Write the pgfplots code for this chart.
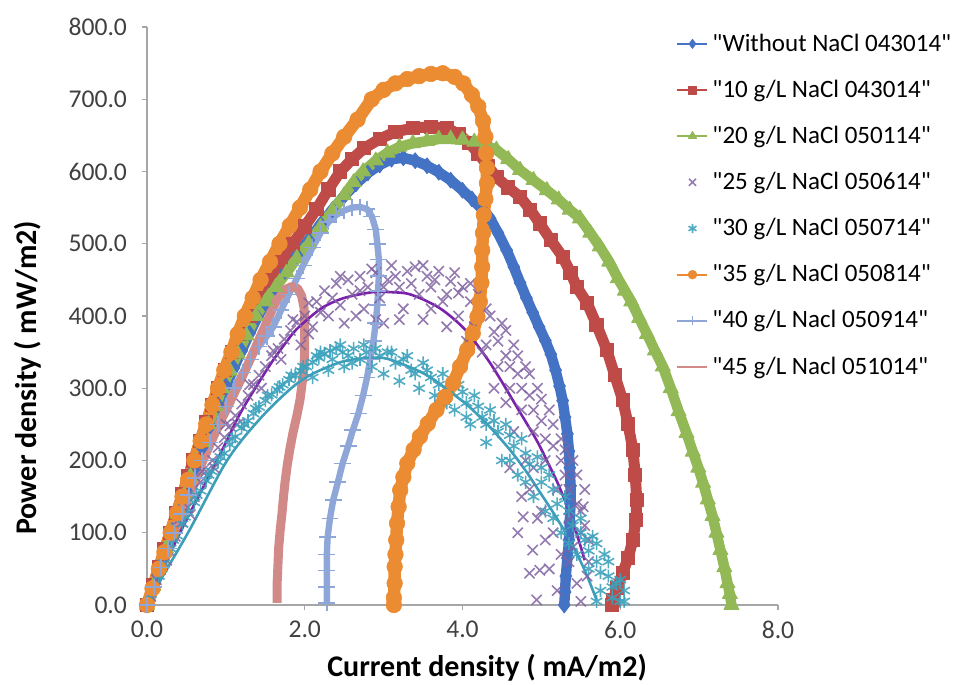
\documentclass[border=0pt]{standalone}
\usepackage{fontspec}
\setmainfont{Carlito}[Ligatures=TeXOff]
\usepackage{pgfplots}
\pgfplotsset{compat=1.18}
\definecolor{blueS}{HTML}{4472C4}
\definecolor{redS}{HTML}{BE4B48}
\definecolor{greenS}{HTML}{92B956}
\definecolor{orangeS}{HTML}{EB8C32}
\definecolor{purpleS}{HTML}{8064A2}
\definecolor{tealS}{HTML}{3DA2BC}
\definecolor{ltblueS}{HTML}{8FA6D9}
\definecolor{pinkS}{HTML}{D28A88}
\definecolor{purpleT}{HTML}{7A22AC}
\definecolor{tealT}{HTML}{3E9EB9}
\definecolor{axgray}{HTML}{A6A6A6}
\definecolor{ticktext}{HTML}{404040}
\begin{document}
\begin{tikzpicture}
\useasboundingbox (-73.5pt,-40pt) rectangle (405.5pt,302.5pt);
\begin{axis}[
  scale only axis, width=315.5pt, height=289pt,
  xmin=0, xmax=8, ymin=0, ymax=800,
  xtick={0,2,4,6,8}, ytick={0,100,200,300,400,500,600,700,800},
  axis lines=left,
  axis line style={-, draw=axgray, line width=0.7pt},
  every outer x axis line/.append style={-},
  every outer y axis line/.append style={-},
  tick align=outside, major tick length=2.5pt,
  tick style={draw=axgray, line width=0.7pt},
  clip=false,
  /pgf/number format/.cd, fixed, fixed zerofill, precision=1, 1000 sep={}, assume math mode=true,
  /pgfplots/.cd,
  ticklabel style={font=\fontsize{12.8}{14}\selectfont, text=ticktext},
  yticklabel style={xshift=-4pt},
  xticklabel style={yshift=-2pt},
  xlabel={Current density ( mA/m2)},
  ylabel={Power density ( mW/m2)},
  label style={font=\fontsize{15}{17}\selectfont\bfseries},
  xlabel style={at={(axis description cs:0.539,-0.109)}, anchor=center},
  ylabel style={at={(axis description cs:-0.189,0.393)}, anchor=center},
  legend style={at={(axis description cs:0.829,1.003)}, anchor=north west,
    draw=none, fill=none, font=\fontsize{12.5}{14}\selectfont, row sep=8.9pt,
    legend cell align=left, /tikz/every even column/.append style={column sep=0pt}},
  legend image code/.code={\draw[mark repeat=2,mark phase=2,#1] plot coordinates {(0pt,0pt) (7.5pt,0pt) (15pt,0pt)};},
]
% Without NaCl
\addplot[color=blueS, line width=5.2pt, line join=round, mark=diamond*, mark size=3.9pt, mark options={solid, line width=0.5pt},
  legend image post style={mark size=2.2pt, line width=0.9pt}] coordinates {
(0,0)(0.08,25)(0.16,52)(0.24,78)(0.32,103)(0.4,128)(0.5,158)(0.6,188)(0.7,218)(0.8,248)(0.9,277)(1.0,303)(1.1,328)(1.2,352)(1.3,376)(1.4,398)(1.5,418)(1.62,440)(1.75,462)(1.9,484)(2.05,505)(2.2,527)(2.35,547)(2.5,566)(2.65,583)(2.8,598)(2.95,609)(3.1,617)(3.25,619)(3.4,615)(3.55,608)(3.7,599)(3.85,588)(4.0,574)(4.12,562)(4.25,548)(4.35,535)(4.45,515)(4.56,491)(4.65,468)(4.73,446)(4.81,425)(4.89,405)(4.97,385)(5.05,366)(5.12,347)(5.18,325)(5.23,303)(5.27,283)(5.3,260)(5.33,237)(5.35,213)(5.36,190)(5.37,165)(5.37,140)(5.36,115)(5.35,90)(5.33,65)(5.31,40)(5.3,18)(5.29,0)};
\addlegendentry{"Without NaCl 043014"}
% 10 g/L
\addplot[color=redS, line width=5.5pt, line join=round, mark=square*, mark size=3.3pt, mark options={solid, line width=0.5pt},
  legend image post style={mark size=2pt, line width=0.9pt}] coordinates {
(0,0)(0.08,28)(0.15,52)(0.22,77)(0.29,100)(0.37,127)(0.45,154)(0.52,178)(0.59,200)(0.67,227)(0.75,253)(0.82,277)(0.9,300)(0.99,325)(1.08,350)(1.18,375)(1.3,400)(1.42,425)(1.55,450)(1.7,475)(1.85,500)(2.0,524)(2.15,548)(2.3,575)(2.45,600)(2.6,617)(2.75,632)(2.95,645)(3.15,655)(3.37,660)(3.6,662)(3.8,660)(3.95,652)(4.09,639)(4.2,625)(4.32,608)(4.43,592)(4.58,578)(4.73,565)(4.86,547)(4.98,528)(5.12,505)(5.27,482)(5.37,460)(5.45,440)(5.58,418)(5.7,388)(5.83,353)(5.93,318)(6.03,284)(6.1,250)(6.16,215)(6.19,180)(6.21,145)(6.2,118)(6.16,90)(6.1,65)(6.03,44)(5.96,24)(5.91,7)(5.9,0)};
\addlegendentry{"10 g/L NaCl 043014"}
% 20 g/L
\addplot[color=greenS, line width=5.2pt, line join=round, mark=triangle*, mark size=4.3pt, mark options={solid, line width=0.5pt},
  legend image post style={mark size=2.3pt, line width=0.9pt}] coordinates {
(0,0)(0.08,26)(0.16,52)(0.24,78)(0.31,100)(0.39,126)(0.47,152)(0.55,178)(0.62,200)(0.7,225)(0.78,250)(0.87,275)(0.95,300)(1.05,324)(1.15,348)(1.26,373)(1.38,400)(1.5,420)(1.63,440)(1.77,460)(1.9,480)(2.05,500)(2.2,523)(2.35,546)(2.5,567)(2.62,585)(2.74,600)(2.9,615)(3.05,626)(3.2,634)(3.37,639)(3.55,642)(3.7,645)(3.85,645)(4.0,644)(4.15,641)(4.3,636)(4.43,630)(4.58,617)(4.73,602)(4.9,588)(5.07,574)(5.22,561)(5.36,547)(5.49,535)(5.62,515)(5.74,496)(5.86,475)(5.97,452)(6.06,435)(6.14,420)(6.24,397)(6.34,375)(6.44,352)(6.54,330)(6.64,300)(6.74,268)(6.84,238)(6.92,212)(6.99,190)(7.05,169)(7.11,146)(7.17,123)(7.22,100)(7.27,76)(7.32,52)(7.36,30)(7.39,15)(7.41,0)};
\addlegendentry{"20 g/L NaCl 050114"}
% 25 g/L (markers only)
\addplot[only marks, color=purpleS, mark=x, mark size=3.6pt, mark options={line width=0.8pt, opacity=0.85},
  legend image post style={mark size=2.5pt, opacity=0.45}] coordinates {
(0.05,12)(0.12,35)(0.2,55)(0.28,75)(0.36,95)(0.45,115)(0.52,135)(0.6,150)(0.68,170)(0.75,185)(0.83,200)(0.9,218)(0.98,232)(1.05,248)(1.12,262)(1.2,278)(1.28,290)(1.35,305)(1.42,318)(1.5,330)(1.58,345)(1.66,355)(1.74,368)(1.82,380)(1.9,392)
(0.4,118)(0.7,185)(1.0,250)(1.3,305)(1.6,352)(1.85,395)(2.05,418)
(2.0,400)(2.1,385)(2.15,420)(2.25,435)(2.3,400)(2.4,445)(2.45,415)(2.5,390)(2.55,450)(2.6,430)(2.7,455)(2.75,410)(2.8,440)(2.9,460)(2.95,425)(3.0,390)(3.05,450)(3.1,470)(3.2,440)(3.25,410)(3.3,462)(3.4,468)(3.45,430)(3.5,395)(3.55,455)(3.6,440)(3.7,462)(3.75,420)(3.8,385)(3.85,448)(3.95,432)(4.0,440)(4.05,365)(4.1,420)(4.2,400)(4.25,350)(4.3,410)(4.4,378)(4.45,330)(4.5,390)(4.55,345)(4.6,300)(4.65,360)(4.7,320)(4.75,270)(4.8,330)(4.85,290)(4.9,240)(4.95,300)(5.0,255)(5.05,200)(5.1,270)(5.15,220)(5.2,160)(5.25,230)(5.3,180)(5.35,120)(5.4,200)(5.45,140)(5.5,100)(5.55,160)(5.6,90)(5.58,40)(4.75,150)(4.77,122)(4.89,76)(4.85,44)(4.94,7)(4.98,48)(5.1,50)(5.2,20)(5.35,60)(5.45,30)(5.5,5)(4.6,190)(4.7,100)(5.0,130)(5.15,100)(5.53,136)
(2.2,405)(2.35,425)(2.45,455)(2.65,400)(2.7,435)(2.85,465)(2.9,395)(3.0,440)(3.15,455)(3.2,395)(3.35,445)(3.5,470)(3.6,410)(3.65,450)(3.8,430)(3.9,460)(3.95,400)(4.1,445)(4.15,385)(4.2,430)(4.3,360)(4.35,400)(4.45,365)(4.55,380)(4.6,330)(4.7,345)(4.75,300)(4.85,320)(4.9,270)(5.0,285)(5.05,230)(5.15,250)(5.25,200)(5.3,215)(5.35,160)(5.45,180)(5.5,130)(5.55,110)(4.8,200)(4.85,160)(4.9,190)(4.95,120)(5.05,90)(5.25,70)(5.4,80)(5.6,60)(4.65,240)(4.55,280)(4.4,300)(2.05,375)(1.95,360)(1.7,340)(1.45,300)(1.15,250)(0.85,190)(0.55,125)(0.25,62)};
\addlegendentry{"25 g/L NaCl 050614"}
% 30 g/L (markers only)
\addplot[only marks, color=tealS, mark=asterisk, mark size=3.3pt, mark options={line width=0.8pt, opacity=0.9},
  legend image post style={mark size=2.3pt, opacity=0.45}] coordinates {
(0.02,5)(0.08,22)(0.15,40)(0.22,58)(0.3,78)(0.38,96)(0.45,112)(0.52,128)(0.6,142)(0.68,158)(0.75,172)(0.82,185)(0.9,198)(0.98,210)(1.05,222)(1.12,233)(1.2,245)(1.28,255)(1.35,265)(1.42,274)(1.5,283)(1.58,291)(1.65,298)(1.72,305)(1.8,312)(1.88,318)(1.95,324)(2.02,330)(2.1,336)(2.18,342)(2.25,348)(2.32,352)(2.4,355)(2.48,350)(2.55,345)(2.62,355)(2.7,340)(2.1,315)(2.3,325)(2.5,330)(2.2,350)(2.78,350)(2.85,330)(2.95,345)(3.0,320)(3.05,350)(3.15,335)(3.2,310)(3.25,340)(3.35,325)(3.45,300)(3.5,335)(3.6,315)(3.65,290)(3.75,320)(3.85,295)(3.9,270)(3.95,305)(4.05,280)(4.1,250)(4.15,290)(4.25,260)(4.3,225)(4.35,270)(4.45,240)(4.5,200)(4.55,250)(4.65,220)(4.7,180)(4.75,230)(4.85,195)(4.9,150)(4.95,205)(5.0,170)(5.05,130)(5.1,180)(5.2,140)(5.25,100)(5.3,150)(5.4,110)(5.45,70)(5.5,120)(5.55,90)(5.6,50)(5.65,95)(5.7,60)(5.75,20)(5.8,70)(5.85,40)(5.95,30)(6.0,5)(5.9,10)(5.7,5)(6.05,20)
(0.05,15)(0.18,50)(0.33,90)(0.48,122)(0.63,152)(0.78,180)(0.93,205)(1.08,230)(1.23,250)(1.38,272)(1.53,290)(1.68,302)(1.83,318)(1.98,330)(2.15,345)(2.35,340)(2.45,360)(2.6,335)(2.75,360)(2.9,355)(3.1,350)(3.3,345)(3.4,320)(3.55,325)(3.7,305)(3.8,280)(4.0,295)(4.2,275)(4.4,255)(4.6,235)(4.6,200)(4.8,210)(4.8,170)(5.0,190)(5.15,160)(5.15,120)(5.35,130)(5.35,85)(5.5,100)(5.6,75)(5.7,85)(5.75,45)(5.85,60)(5.9,25)(6.0,35)(6.05,5)(4.3,250)(4.05,260)(3.8,300)};
\addlegendentry{"30 g/L NaCl 050714"}
% 35 g/L
\addplot[color=orangeS, line width=6.2pt, line join=round, mark=*, mark size=3.9pt, mark options={solid, line width=0.3pt},
  legend image post style={mark size=2.2pt, line width=0.9pt}] coordinates {
(0,0)(0.07,23)(0.15,50)(0.22,73)(0.3,100)(0.38,127)(0.45,150)(0.52,173)(0.6,200)(0.68,227)(0.75,250)(0.83,277)(0.9,300)(0.98,325)(1.07,350)(1.15,375)(1.24,400)(1.34,425)(1.44,450)(1.56,475)(1.68,500)(1.81,525)(1.94,550)(2.07,575)(2.2,600)(2.35,625)(2.5,648)(2.67,672)(2.85,700)(3.0,713)(3.15,722)(3.3,728)(3.45,732)(3.6,735)(3.75,736)(3.9,731)(4.01,722)(4.12,706)(4.2,690)(4.26,670)(4.29,648)(4.3,625)(4.31,605)(4.31,584)(4.29,562)(4.27,540)(4.26,515)(4.25,491)(4.25,468)(4.24,446)(4.22,420)(4.19,399)(4.13,376)(4.06,353)(3.97,330)(3.88,307)(3.78,288)(3.67,270)(3.56,251)(3.46,233)(3.38,215)(3.3,196)(3.25,177)(3.21,159)(3.19,136)(3.17,113)(3.16,90)(3.15,70)(3.14,53)(3.14,30)(3.13,10)(3.13,0)};
\addlegendentry{"35 g/L NaCl 050814"}
% 40 g/L
\addplot[color=ltblueS, line width=3.2pt, line join=round, mark=+, mark size=4.2pt, mark options={solid, line width=0.8pt},
  legend image post style={mark size=2.2pt, line width=0.8pt}] coordinates {
(0,0)(0.09,25)(0.18,52)(0.27,78)(0.35,100)(0.44,126)(0.53,152)(0.61,176)(0.7,200)(0.8,225)(0.9,250)(1.0,275)(1.1,300)(1.21,322)(1.31,340)(1.42,358)(1.52,372)(1.6,385)(1.7,408)(1.8,430)(1.9,452)(1.98,470)(2.1,495)(2.2,515)(2.3,530)(2.4,540)(2.5,546)(2.6,550)(2.7,551)(2.79,548)(2.85,538)(2.9,520)(2.92,500)(2.94,478)(2.94,455)(2.93,435)(2.92,415)(2.9,390)(2.87,365)(2.83,340)(2.79,315)(2.74,290)(2.68,265)(2.61,242)(2.55,220)(2.48,196)(2.42,170)(2.36,145)(2.32,120)(2.29,94)(2.28,70)(2.28,48)(2.28,25)(2.28,3)};
\addlegendentry{"40 g/L Nacl 050914"}
% 45 g/L
\addplot[color=pinkS, line width=4.5pt, line join=round,
  legend image post style={line width=1pt}] coordinates {
(0,0)(0.1,30)(0.22,65)(0.35,100)(0.47,134)(0.6,168)(0.71,200)(0.83,230)(0.95,258)(1.07,285)(1.19,312)(1.3,338)(1.41,365)(1.52,392)(1.6,412)(1.68,428)(1.76,437)(1.84,441)(1.91,438)(1.96,428)(1.99,412)(2.0,399)(2.0,380)(2.0,353)(1.99,330)(1.97,310)(1.94,284)(1.9,262)(1.85,238)(1.81,215)(1.78,195)(1.75,170)(1.73,149)(1.71,125)(1.69,105)(1.67,80)(1.66,55)(1.65,30)(1.65,3)};
\addlegendentry{"45 g/L Nacl 051014"}
% trendlines
\addplot[forget plot, color=purpleT, line width=1.3pt, smooth] coordinates {
(0,0)(0.2,50)(0.33,80)(0.5,118)(0.76,173)(1.0,225)(1.18,265)(1.4,305)(1.6,339)(1.85,376)(2.0,392)(2.23,412)(2.5,425)(2.86,433)(3.1,433)(3.3,431)(3.5,423)(3.71,411)(3.9,395)(4.06,378)(4.2,358)(4.35,335)(4.51,307)(4.7,272)(4.94,228)(5.1,193)(5.23,163)(5.4,115)(5.55,62)};
\addplot[forget plot, color=tealT, line width=1.3pt, smooth] coordinates {
(0,0)(0.2,40)(0.54,104)(0.96,190)(1.2,228)(1.52,268)(1.85,302)(2.1,320)(2.45,336)(2.7,341)(2.99,342)(3.2,335)(3.5,321)(3.7,307)(3.93,288)(4.1,273)(4.35,246)(4.6,215)(4.8,186)(4.94,163)(5.15,128)(5.36,90)(5.55,48)(5.7,7)};
\end{axis}
\end{tikzpicture}
\end{document}
